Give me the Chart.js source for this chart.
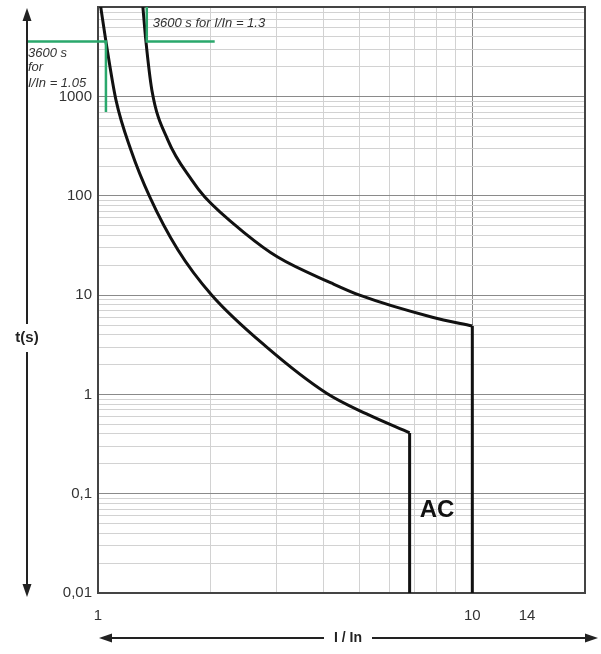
<!DOCTYPE html>
<html>
<head>
<meta charset="utf-8">
<script src="https://cdn.jsdelivr.net/npm/chart.js@4.4.0/dist/chart.umd.min.js"></script>
<style>
  body { margin: 0; background: #fff; }
  canvas { display: block; }
</style>
</head>
<body>
<canvas id="myChart" width="601" height="654"></canvas>
<script>
// trip curves, I/In against time in seconds
const lowI = [1.017, 1.050, 1.117, 1.225, 1.376, 1.634, 2.014, 2.823, 4.08, 5.22, 6.8];
const lowT = [8000, 3600, 922, 289, 97.3, 28.7, 10, 3.0, 1.03, 0.636, 0.41];
const highI = [1.318, 1.343, 1.393, 1.537, 1.781, 1.929, 2.466, 3.02, 4.21, 5.0, 7.82, 10];
const highT = [8000, 3600, 1163, 365, 144, 97.3, 42.2, 24.2, 13.2, 10, 6.0, 4.9];

// instantaneous drop of each curve
const dropLowI = [6.8, 6.8];
const dropLowT = [0.41, 0.01];
const dropHighI = [10, 10];
const dropHighT = [4.9, 0.01];

// green 3600 s markers
const mark105I = [0.65, 1.05, 1.05];
const mark105T = [3600, 3600, 700];
const mark13I = [1.35, 1.35, 2.05];
const mark13T = [8000, 3600, 3600];

// axes
const xTicks = [1, 2, 3, 4, 5, 6, 7, 8, 9, 10, 14, 20];
const xLabelVals = [1, 10, 14];
const yLabelVals = [0.01, 0.1, 1, 10, 100, 1000];
const yLabelText = ['0,01', '0,1', '1', '10', '100', '1000'];

const yTicks = [];
for (let n = -2; n <= 3; n++) {
    for (let k = 1; k <= 9; k++) {
        const v = parseFloat((k * Math.pow(10, n)).toPrecision(3));
        if (v <= 8000) yTicks.push(v);
    }
}

const pts = (xs, ys) => xs.map((x, i) => ({ x: x, y: ys[i] }));

function arrowHead(ctx, x, y, dx, dy) {
    // tip at x,y pointing along dx,dy
    const len = 13, half = 4.5;
    const px = -dy, py = dx;
    ctx.beginPath();
    ctx.moveTo(x, y);
    ctx.lineTo(x - dx * len + px * half, y - dy * len + py * half);
    ctx.lineTo(x - dx * len - px * half, y - dy * len - py * half);
    ctx.closePath();
    ctx.fill();
}

const decor = {
    id: 'decor',
    beforeDatasetsDraw(chart) {
        const { ctx, chartArea: a } = chart;
        ctx.save();
        ctx.strokeStyle = '#444';
        ctx.lineWidth = 2;
        ctx.strokeRect(a.left, a.top, a.right - a.left, a.bottom - a.top);
        ctx.restore();
    },
    afterDraw(chart) {
        const { ctx, chartArea: a } = chart;
        const xs = chart.scales.x, ys = chart.scales.y;
        ctx.save();
        ctx.fillStyle = '#222';
        ctx.strokeStyle = '#222';
        ctx.lineWidth = 2;

        // t(s) arrow
        const ax = 27;
        ctx.beginPath();
        ctx.moveTo(ax, a.top + 8); ctx.lineTo(ax, 324);
        ctx.moveTo(ax, 352); ctx.lineTo(ax, a.bottom - 4);
        ctx.stroke();
        arrowHead(ctx, ax, a.top + 1, 0, -1);
        arrowHead(ctx, ax, a.bottom + 4, 0, 1);
        ctx.font = 'bold 15px "Liberation Sans", Arial, sans-serif';
        ctx.textAlign = 'center';
        ctx.textBaseline = 'middle';
        ctx.fillText('t(s)', ax, 338);

        // I / In arrow
        const ay = 638;
        ctx.beginPath();
        ctx.moveTo(a.left + 8, ay); ctx.lineTo(324, ay);
        ctx.moveTo(372, ay); ctx.lineTo(590, ay);
        ctx.stroke();
        arrowHead(ctx, a.left + 1, ay, -1, 0);
        arrowHead(ctx, 598, ay, 1, 0);
        ctx.font = 'bold 14px "Liberation Sans", Arial, sans-serif';
        ctx.fillText('I / In', 348, ay);

        // marker notes
        ctx.fillStyle = '#333';
        ctx.font = 'italic 13px "Liberation Sans", Arial, sans-serif';
        ctx.textAlign = 'left';
        ctx.textBaseline = 'alphabetic';
        const y3600 = ys.getPixelForValue(3600);
        ctx.fillText('3600 s for I/In = 1.3', xs.getPixelForValue(1.35) + 6, y3600 - 14);
        const lx = xs.getPixelForValue(0.65);
        ctx.fillText('3600 s', lx, y3600 + 16);
        ctx.fillText('for', lx, y3600 + 30);
        ctx.fillText('I/In = 1.05', lx, y3600 + 46);

        // AC
        ctx.fillStyle = '#111';
        ctx.font = 'bold 24px "Liberation Sans", Arial, sans-serif';
        ctx.textAlign = 'center';
        ctx.textBaseline = 'middle';
        ctx.fillText('AC', xs.getPixelForValue(8.05), ys.getPixelForValue(0.068));
        ctx.restore();
    }
};

const black = { borderColor: '#111', borderWidth: 3, pointRadius: 0, showLine: true, fill: false };
const green = { borderColor: '#2aa86c', borderWidth: 2.5, pointRadius: 0, showLine: true, fill: false, tension: 0, clip: false };

Chart.defaults.font.family = '"Liberation Sans", Arial, sans-serif';
Chart.defaults.color = '#333';

new Chart(document.getElementById('myChart').getContext('2d'), {
    type: 'scatter',
    data: {
        datasets: [
            { ...green, data: pts(mark105I, mark105T) },
            { ...green, data: pts(mark13I, mark13T) },
            { ...black, cubicInterpolationMode: 'monotone', data: pts(lowI, lowT) },
            { ...black, cubicInterpolationMode: 'monotone', data: pts(highI, highT) },
            { ...black, tension: 0, data: pts(dropLowI, dropLowT) },
            { ...black, tension: 0, data: pts(dropHighI, dropHighT) }
        ]
    },
    options: {
        responsive: false,
        animation: false,
        layout: { padding: { top: 7, right: 16, left: 0, bottom: 0 } },
        plugins: { legend: { display: false }, tooltip: { enabled: false } },
        scales: {
            x: {
                type: 'logarithmic',
                min: 1,
                max: 20,
                afterBuildTicks: s => { s.ticks = xTicks.map(v => ({ value: v })); },
                afterFit: s => { s.height = 61; s.paddingLeft = 0; s.paddingRight = 0; },
                border: { display: false },
                grid: {
                    drawTicks: false,
                    color: c => {
                        const v = c.tick.value;
                        if (v === 10) return '#8a8a8a';
                        if (v === 1 || v === 14 || v === 20) return 'rgba(0,0,0,0)';
                        return '#d2d2d2';
                    }
                },
                ticks: {
                    autoSkip: false,
                    maxRotation: 0,
                    padding: 14,
                    font: { size: 15 },
                    callback: v => xLabelVals.includes(v) ? String(v) : ''
                }
            },
            y: {
                type: 'logarithmic',
                min: 0.01,
                max: 8000,
                afterBuildTicks: s => { s.ticks = yTicks.map(v => ({ value: v })); },
                afterFit: s => { s.width = 98; s.paddingTop = 0; s.paddingBottom = 0; },
                border: { display: false },
                grid: {
                    drawTicks: false,
                    color: c => {
                        const v = c.tick.value;
                        if (v === 0.01) return 'rgba(0,0,0,0)';
                        return yLabelVals.includes(v) ? '#8a8a8a' : '#d2d2d2';
                    }
                },
                ticks: {
                    autoSkip: false,
                    padding: 6,
                    font: { size: 15 },
                    callback: v => {
                        const i = yLabelVals.indexOf(v);
                        return i >= 0 ? yLabelText[i] : '';
                    }
                }
            }
        }
    },
    plugins: [decor]
});
</script>
</body>
</html>
